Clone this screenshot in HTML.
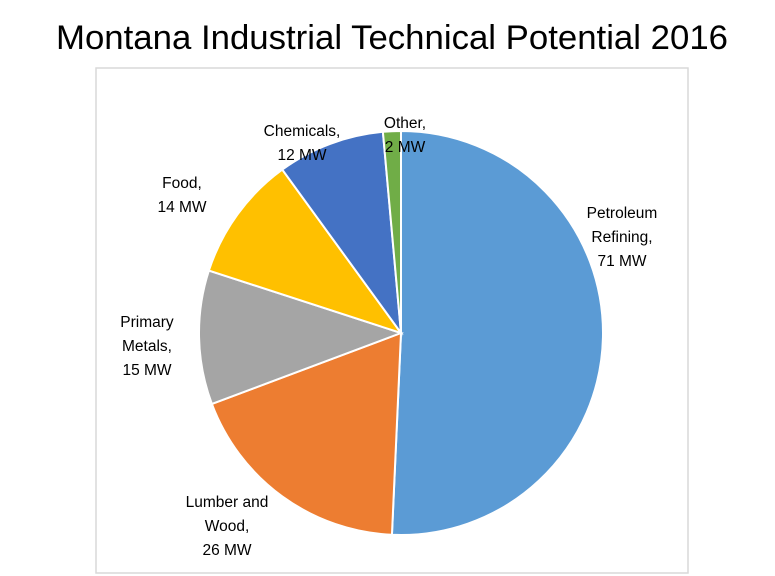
<!DOCTYPE html>
<html><head><meta charset="utf-8"><style>
body{margin:0;background:#fff;}
svg{display:block;font-family:"Liberation Sans",sans-serif;}
</style></head><body>
<svg width="775" height="576" viewBox="0 0 775 576">
<text x="392" y="49" font-size="34" text-anchor="middle" textLength="672" lengthAdjust="spacingAndGlyphs">Montana Industrial Technical Potential 2016</text>
<rect x="96" y="68" width="592" height="505" fill="none" stroke="#d9d9d9" stroke-width="1.5"/>
<g id="slices"></g>
<g id="labels" font-size="15.5" fill="#000" text-anchor="middle"></g>
</svg>
<script>
const categories=["Petroleum Refining","Lumber and Wood","Primary Metals","Food","Chemicals","Other"];
const values=[71,26,15,14,12,2];
const colors=["#5b9bd5","#ed7d31","#a5a5a5","#ffc000","#4472c4","#70ad47"];
const labelLines=[["Petroleum","Refining,","71 MW"],["Lumber and","Wood,","26 MW"],["Primary","Metals,","15 MW"],["Food,","14 MW"],["Chemicals,","12 MW"],["Other,","2 MW"]];
const labelPos=[[622,218],[227,507],[147,327],[182,188],[302,136],[405,128]];
const cx=401,cy=333,r=202;
const ns="http://www.w3.org/2000/svg";
const total=values.reduce((a,b)=>a+b,0);
const sg=document.getElementById('slices'),lg=document.getElementById('labels');
let a0=0;
values.forEach((v,i)=>{
  const a1=a0+v/total*2*Math.PI;
  const p=(a)=>[cx+r*Math.sin(a),cy-r*Math.cos(a)];
  const [x0,y0]=p(a0),[x1,y1]=p(a1);
  const path=document.createElementNS(ns,'path');
  path.setAttribute('d',`M${cx},${cy}L${x0},${y0}A${r},${r} 0 ${a1-a0>Math.PI?1:0} 1 ${x1},${y1}Z`);
  path.setAttribute('fill',colors[i]);
  path.setAttribute('stroke','#fff');
  path.setAttribute('stroke-width','2');
  
  
  sg.appendChild(path);
  const t=document.createElementNS(ns,'text');
  
  
  labelLines[i].forEach((s,j)=>{
    const ts=document.createElementNS(ns,'tspan');
    ts.setAttribute('x',labelPos[i][0]);
    ts.setAttribute('y',labelPos[i][1]+j*24);
    ts.textContent=s;
    t.appendChild(ts);
  });
  lg.appendChild(t);
  a0=a1;
});
</script>
</body></html>
